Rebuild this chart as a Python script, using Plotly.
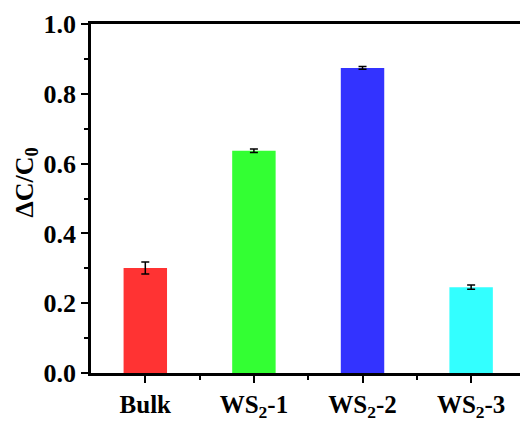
import plotly.graph_objects as go

categories = ["Bulk", "WS<sub>2</sub>-1", "WS<sub>2</sub>-2", "WS<sub>2</sub>-3"]
values = [0.301, 0.637, 0.874, 0.246]
errors = [0.017, 0.005, 0.004, 0.006]
colors = ["#FF3333", "#33FF33", "#3333FF", "#33FFFF"]
positions = [0, 1, 2, 3]
yticks = [0, 0.2, 0.4, 0.6, 0.8, 1.0]

font_family = "Liberation Serif, Times New Roman, serif"

fig = go.Figure()
fig.add_trace(go.Bar(
    x=positions, y=values, width=0.4,
    marker=dict(color=colors, line=dict(width=0)),
    error_y=dict(type="data", array=errors, color="black", thickness=1.5, width=4),
    showlegend=False,
))

fig.update_layout(
    width=520, height=421,
    margin=dict(l=91, r=0, t=24, b=48),
    plot_bgcolor="white", paper_bgcolor="white",
    font=dict(family=font_family, size=22, color="black"),
)
fig.update_xaxes(
    range=[-0.5, 3.45], automargin=False,
    tickvals=positions, ticktext=["<b>%s</b>" % c for c in categories],
    showline=True, linecolor="black", linewidth=2.5, mirror=True,
    ticks="outside", ticklen=7, tickwidth=2, tickcolor="black",
    minor=dict(tickvals=[0.5, 1.5, 2.5], ticks="outside", ticklen=4, tickwidth=2, tickcolor="black"),
    showgrid=False, zeroline=False,
    tickfont=dict(family=font_family, size=25),
)
fig.update_yaxes(
    range=[0, 1.0], automargin=False,
    tickvals=yticks,
    ticktext=["<b>%.1f</b>" % v for v in yticks],
    showline=True, linecolor="black", linewidth=2.5, mirror=False,
    ticks="outside", ticklen=7, tickwidth=2, tickcolor="black",
    minor=dict(tickvals=[0.1, 0.3, 0.5, 0.7, 0.9], ticks="outside", ticklen=4, tickwidth=2, tickcolor="black"),
    showgrid=False, zeroline=False,
    tickfont=dict(family=font_family, size=26),
)
fig.add_annotation(
    text="<b>ΔC/C<sub>0</sub></b>", textangle=-90,
    xref="paper", yref="paper", x=-0.152, y=0.545, xanchor="center", yanchor="middle",
    showarrow=False, font=dict(family=font_family, size=26),
)

fig.write_html("out.html", config={"displayModeBar": False},
               post_script="document.body.style.margin='0';")
